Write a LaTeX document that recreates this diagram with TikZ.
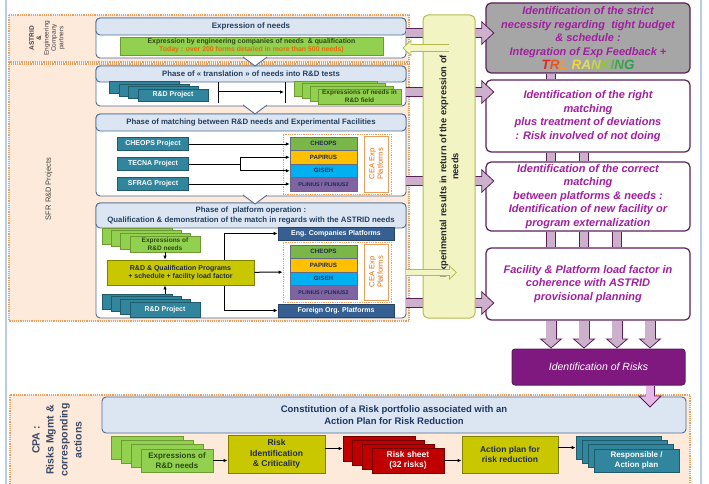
\documentclass[tikz,border=0pt]{standalone}
\usepackage{fontspec}
\setmainfont{Liberation Sans}
\usetikzlibrary{calc,arrows.meta,positioning}

\definecolor{peach}{HTML}{FDEADA}
\definecolor{dotorange}{HTML}{E8A060}
\definecolor{panelline}{HTML}{4F6D94}
\definecolor{headfill}{HTML}{DCE6F2}
\definecolor{headtext}{HTML}{243F60}
\definecolor{plantext}{HTML}{1F3864}
\definecolor{leafgreen}{HTML}{92D050}
\definecolor{leafline}{HTML}{6E9A33}
\definecolor{leaftext}{HTML}{2B4A12}
\definecolor{todayorange}{HTML}{E46C0A}
\definecolor{tealfill}{HTML}{31859C}
\definecolor{tealline}{HTML}{1F5B6B}
\definecolor{mustard}{HTML}{C9C800}
\definecolor{mustline}{HTML}{7F7F00}
\definecolor{navytext}{HTML}{1F2A50}
\definecolor{cheopsgreen}{HTML}{7AB648}
\definecolor{papirusorange}{HTML}{FFC000}
\definecolor{gisehblue}{HTML}{00B0F0}
\definecolor{pliniuspurple}{HTML}{8064A2}
\definecolor{ceaorange}{HTML}{E46C0A}
\definecolor{steelblue}{HTML}{366092}
\definecolor{paleyellow}{HTML}{F2F4C4}
\definecolor{paleline}{HTML}{B5BA4A}
\definecolor{grayfill}{HTML}{A6A6A6}
\definecolor{plumline}{HTML}{5A1F5A}
\definecolor{plumtext}{HTML}{A0209F}
\definecolor{lav}{HTML}{CCB0CC}
\definecolor{pinklav}{HTML}{E6B9E6}
\definecolor{riskpurple}{HTML}{7F187F}
\definecolor{riskred}{HTML}{C00000}
\definecolor{pageline}{HTML}{B9CDE5}
\definecolor{labelgray}{HTML}{404040}
\definecolor{cpatext}{HTML}{3A4A68}
\definecolor{darktext}{HTML}{262626}

\tikzstyle{region}=[fill=peach, draw=dotorange, densely dotted, line width=1.2pt]
\tikzstyle{panel}=[fill=white, draw=panelline, line width=0.9pt, rounded corners=4pt]
\tikzstyle{panel head}=[panel, fill=headfill, text=headtext, font=\bfseries\fontsize{7.8}{9.2}\selectfont, align=center, inner sep=0pt]
\tikzstyle{wire}=[-{Latex[length=4pt,width=3.5pt]}, line width=1pt]
\tikzstyle{teal doc}=[fill=tealfill, draw=tealline, line width=0.6pt, text=white, font=\bfseries\fontsize{7}{8.4}\selectfont, align=center, inner sep=1pt]
\tikzstyle{leaf doc}=[fill=leafgreen, draw=leafline, line width=0.6pt, text=leaftext, font=\bfseries\fontsize{6.5}{7.8}\selectfont, align=center, inner sep=1pt]
\tikzstyle{red doc}=[fill=riskred, draw=riskred!60!black, line width=0.6pt, text=white, font=\bfseries\fontsize{8.5}{10.5}\selectfont, align=center, inner sep=1pt]
\tikzstyle{mustard box}=[fill=mustard, draw=mustline, line width=0.8pt, text=navytext, font=\bfseries\fontsize{7}{8.6}\selectfont, align=center, inner sep=1pt]
\tikzstyle{steel box}=[fill=steelblue, draw=steelblue!70!black, line width=0.6pt, text=white, font=\bfseries\fontsize{7}{8}\selectfont, minimum width=116pt, minimum height=13pt, inner sep=0pt]
\tikzstyle{platform}=[draw=navytext!70, line width=0.5pt, text=navytext, font=\bfseries\fontsize{6.2}{7}\selectfont, minimum width=67pt, minimum height=13.5pt, inner sep=0pt]
\tikzstyle{cea frame}=[fill=white, draw=dotorange, densely dotted, line width=0.8pt, minimum width=108pt, minimum height=60pt]
\tikzstyle{cea box}=[fill=white, draw=dotorange, line width=0.6pt, rotate=90, text=ceaorange, font=\fontsize{7.5}{8.6}\selectfont, align=center, minimum width=56pt, minimum height=24pt, inner sep=0pt]
\tikzstyle{idbox}=[fill=white, draw=plumline, line width=1.2pt, rounded corners=5pt, text=plumtext, font=\bfseries\itshape\fontsize{11}{13.6}\selectfont, align=center, minimum width=204pt, inner sep=0pt]

% rainbow label of the top right box
\newcommand{\trlranking}{\textcolor[HTML]{E2261C}{T}\textcolor[HTML]{E8541E}{R}\textcolor[HTML]{F29A2E}{L}
\textcolor[HTML]{EFD83B}{R}\textcolor[HTML]{E0E05A}{A}\textcolor[HTML]{C7D840}{N}\textcolor[HTML]{8CC63F}{K}\textcolor[HTML]{5DB34A}{I}\textcolor[HTML]{3FA34D}{N}\textcolor[HTML]{2E9E49}{G}}

% pile of sheets: name, style, front centre, step x, step y, text
\newcommand{\drawstack}[6]{
  \foreach \k in {3,2,1} {
    \node[#2] (#1-\k) at ($(#3)+(-\k*#4,-\k*#5)$) {};
  }
  \node[#2] (#1) at (#3) {#6};
}

% CEA platforms column: suffix, top of the column
\newcommand{\drawplatforms}[2]{
  \pgfmathsetmacro{\ptop}{#2}
  \node[cea frame] (frame#1) at (337,\ptop+27) {};
  \foreach \nm/\col/\lab [count=\i] in {cheops/cheopsgreen/CHEOPS, papirus/papirusorange/PAPIRUS, giseh/gisehblue/GISEH, plinius/pliniuspurple/{{\fontsize{5.4}{6}\selectfont PLINIUS / PLINIUS2}}} {
    \node[platform, fill=\col] (\nm#1) at (323.5,{\ptop+6.75+13.5*(\i-1)}) {\lab};
  }
  \node[cea box] (cea#1) at (376,\ptop+27) {CEA Exp\\Platforms};
}

% outlined block arrow: fill, outline, shaft, head width, head length, from, to
\newcommand{\blockarrow}[7]{
  \pgfmathsetmacro{\shaftin}{#3-1.6}
  \pgfmathsetmacro{\shaftcut}{#5-1.2}
  \draw[#2, line width=#3pt, -{Triangle[length=#5pt,width=#4pt,fill=#1,line width=0.8pt]}] #6 -- #7;
  \draw[#1, line width=\shaftin pt, shorten >=\shaftcut pt] #6 -- #7;
}
\newcommand{\blockbar}[2]{
  \draw[plumline, line width=10pt] #1 -- #2;
  \draw[lav, line width=8.4pt] #1 -- #2;
}

\begin{document}
\begin{tikzpicture}[x=1pt,y=-1pt]
\useasboundingbox (0,0) rectangle (709,484);
\draw[pageline, line width=2pt] (6,0) -- (6,484) (701,0) -- (701,484);

% regions
\draw[region] (9,15) rectangle (409,62);
\draw[region] (9,64) rectangle (409,321);
\draw[region] (10,395) rectangle (690,495);

% left panels
\node[panel, minimum width=310pt, minimum height=40pt] (p1) at (251,38) {};
\node[panel head, minimum width=310pt, minimum height=17pt, font=\bfseries\fontsize{8}{9}\selectfont] (h1) at (251,26.5) {Expression of needs};
\node[panel, minimum width=310pt, minimum height=40pt] (p2) at (251,86) {};
\node[panel head, minimum width=310pt, minimum height=16pt] (h2) at (251,74) {Phase of « translation » of needs into R\&D tests};
\node[panel, minimum width=310pt, minimum height=82pt] (p3) at (251,155) {};
\node[panel head, minimum width=310pt, minimum height=17pt] (h3) at (251,122.5) {Phase of matching between R\&D needs and Experimental Facilities};
\node[panel, minimum width=310pt, minimum height=115pt] (p4) at (251,260.5) {};
\node[panel head, minimum width=310pt, minimum height=25pt] (h4) at (251,215.5) {Phase of\ \ platform operation :\\Qualification \& demonstration of the match in regards with the ASTRID needs};

\foreach \ya in {58,106,196} {
  \fill[white] (243,\ya-1) -- (255,\ya+8) -- (267,\ya-1) -- cycle;
  \draw[panelline, line width=0.9pt] (243,\ya-1) -- (255,\ya+8) -- (267,\ya-1);
}

% expression of needs
\node[leaf doc, minimum width=263pt, minimum height=18pt, font=\bfseries\fontsize{6.9}{7.8}\selectfont] (engneeds) at (251.5,46) {Expression by engineering companies of needs\ \ \& qualification\\\textcolor{todayorange}{Today : over 200 forms detailed in more than 500 needs)}};

% translation
\drawstack{rd1}{teal doc, minimum width=70pt, minimum height=12pt}{173,95}{9.5}{2.5}{R\&D Project}
\drawstack{ex1}{leaf doc, minimum width=83pt, minimum height=15pt}{359.5,96.5}{8}{2.7}{Expressions of needs in\\R\&D field}
\coordinate (tl) at (218,92);
\coordinate (tr) at (285,92);
\draw[line width=1pt] ($(tl)+(0,-10)$) -- ($(tl)+(0,11)$) ($(tr)+(0,-10)$) -- ($(tr)+(0,11)$);
\draw[wire] (tl) -- ($(tr)+(-1,0)$);

% matching
\node[teal doc, minimum width=71pt, minimum height=13pt] (cheopsprj) at (153,144) {CHEOPS Project};
\node[teal doc, minimum width=71pt, minimum height=13pt] (tecnaprj) at (153,164) {TECNA Project};
\node[teal doc, minimum width=71pt, minimum height=13pt] (sfragprj) at (153,184) {SFRAG Project};
\drawplatforms{1}{137}
\coordinate (tb) at (240,164);
\draw[wire] (cheopsprj.east) -- (cheopsprj.east -| cheops1.west);
\draw[line width=1pt] (tecnaprj) -- (tb);
\draw[wire] (tb) |- (papirus1);
\draw[wire] (tb) |- (giseh1);
\draw[wire] (sfragprj.east) -- (sfragprj.east -| plinius1.west);

% platform operation
\node[steel box] (engpf) at (336,233.5) {Eng. Companies Platforms};
\node[steel box] (forpf) at (336,310.5) {Foreign Org. Platforms};
\drawplatforms{2}{245}
\drawstack{ex2}{leaf doc, minimum width=70pt, minimum height=16pt}{165,244}{9.3}{2.7}{Expressions of\\R\&D needs}
\drawstack{rd2}{teal doc, minimum width=70pt, minimum height=15pt}{165,309.5}{9.3}{2.7}{R\&D Project}
\coordinate (bk) at (224,272.5);
\draw[wire] (bk) |- (engpf);
\draw[wire] (bk) |- (forpf);
\node[mustard box, minimum width=147pt, minimum height=25pt] (qprog) at (180.5,272.5) {R\&D \& Qualification Programs\\+ schedule + facility load factor};
\draw[wire] (qprog) -- (frame2);
\draw[wire] (ex2) -- (ex2 |- qprog.north);
\draw[wire] (rd2-3.north -| rd2) -- (qprog.south -| rd2);

% right column
\node[idbox, fill=grayfill, minimum height=70pt] (need) at (588,38) {Identification of the strict\\necessity regarding\ \ tight budget\\\& schedule :\\Integration of Exp Feedback +\\{\fontsize{13.5}{13}\selectfont\trlranking}};
\node[idbox, minimum height=72pt] (match) at (588,116) {Identification of the right\\matching\\plus treatment of deviations\\: Risk involved of not doing};
\node[idbox, minimum height=69pt] (platf) at (588,196.5) {Identification of the correct\\matching\\between platforms \& needs :\\Identification of new facility or\\program externalization};
\node[idbox, minimum height=72pt] (load) at (588,284) {Facility \& Platform load factor in\\coherence with ASTRID\\provisional planning};
\node[fill=riskpurple, draw=plumline, line width=1pt, rounded corners=3pt, text=white, font=\itshape\fontsize{10.5}{12}\selectfont, minimum width=173pt, minimum height=36pt] (risks) at (598.5,367) {Identification of Risks};

\foreach \pn/\bn/\yy in {p1/need/33, p2/match/92, p3/platf/181, p4/load/303} {
  \coordinate (lvl) at (0,\yy);
  \blockarrow{lav}{plumline}{10}{24}{13}{(\pn.east |- lvl)}{($(\bn.west |- lvl)+(9,0)$)}
}
\blockbar{($(need.south)+(-37,0)$)}{($(match.north)+(-37,0)$)}
\foreach \dx in {-37,-4} {
  \blockbar{($(match.south)+(\dx,0)$)}{($(platf.north)+(\dx,0)$)}
}
\foreach \dx in {-37,-4,29} {
  \blockbar{($(platf.south)+(\dx,0)$)}{($(load.north)+(\dx,0)$)}
}
\foreach \dx in {-37,-4,29,62} {
  \coordinate (d) at ($(load.south)+(\dx,0)$);
  \blockarrow{lav}{plumline}{11}{23}{10}{(d)}{(d |- risks.north)}
}

% return of results
\node[draw=paleline, fill=paleyellow, line width=1pt, rounded corners=5pt, rotate=90, minimum width=303pt, minimum height=52pt, text=darktext, font=\bfseries\fontsize{9.3}{12}\selectfont, align=center] (ery) at (449,166.5) {Experimental results in return of the expression of\\needs};
\coordinate (lvy) at (0,48);
\blockarrow{paleyellow}{paleline}{8}{17}{9}{(ery.west |- lvy)}{($(p1.east |- lvy)+(-4,0)$)}
\coordinate (lvz) at (0,272.5);
\blockarrow{paleyellow}{paleline}{7}{15}{8}{(p4.east |- lvz)}{($(ery.west |- lvz)+(8,0)$)}

% risk portfolio
\node[panel head, minimum width=584pt, minimum height=36pt, text=plantext, font=\bfseries\fontsize{9.5}{12}\selectfont] (plan) at (394,415) {Constitution of a Risk portfolio associated with an\\Action Plan for Risk Reduction};
\coordinate (rr) at ($(risks.south)+(51.5,0)$);
\blockarrow{pinklav}{plumline}{9}{24}{12}{(rr)}{($(rr |- plan.north)+(0,11)$)}
\drawstack{ex3}{leaf doc, minimum width=72pt, minimum height=23pt, font=\bfseries\fontsize{8}{10}\selectfont}{177,460.5}{10}{4.3}{Expressions of\\R\&D needs}
\node[mustard box, minimum width=97pt, minimum height=38pt, font=\bfseries\fontsize{8.5}{10.5}\selectfont] (riskid) at (276.5,454) {Risk\\Identification\\\& Criticality};
\drawstack{rsheet}{red doc, minimum width=72pt, minimum height=25pt}{408,460.5}{9.7}{4}{Risk sheet\\(32 risks)}
\node[mustard box, minimum width=96pt, minimum height=37pt, font=\bfseries\fontsize{8.5}{10.5}\selectfont] (actplan) at (510,454.5) {Action plan for\\risk reduction};
\drawstack{resp}{teal doc, minimum width=85pt, minimum height=23pt, font=\bfseries\fontsize{8}{10}\selectfont}{636.5,460.5}{6}{4.3}{Responsible /\\Action plan}
\draw[wire] (ex3.east) -- (ex3.east -| riskid.west);
\draw[wire] (riskid.east |- rsheet-3) -- (rsheet-3.west);
\draw[wire] (rsheet.east) -- (rsheet.east -| actplan.west);
\draw[wire] (actplan.east |- resp-3) -- (resp-3.west);

% side labels
\node[rotate=90, align=center, text=labelgray, font=\fontsize{6.5}{7.4}\selectfont] (astrid) at (47,38) {\textbf{ASTRID}\\\textbf{\&}\\Engineering\\Company\\partners};
\node[rotate=90, text=labelgray, font=\fontsize{7.5}{9}\selectfont] (sfr) at (49,189) {SFR R\&D Projects};
\node[rotate=90, align=center, text=cpatext, font=\bfseries\fontsize{10.5}{14}\selectfont] (cpa) at (57,440) {CPA :\\Risks Mgmt \&\\corresponding\\actions};
\end{tikzpicture}
\end{document}
